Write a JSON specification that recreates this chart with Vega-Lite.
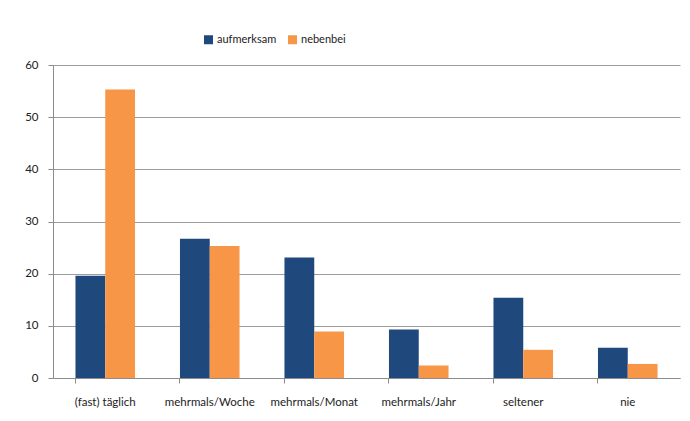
{
  "$schema": "https://vega.github.io/schema/vega-lite/v6.json",
  "autosize": {"type": "none"},
  "padding": {"left": 53, "top": 65, "right": 10, "bottom": 43},
  "width": 627,
  "height": 313,
  "background": "white",
  "data": {"values": [
    {"cat": "(fast) täglich", "series": "aufmerksam", "value": 19.6},
    {"cat": "(fast) täglich", "series": "nebenbei", "value": 55.3},
    {"cat": "mehrmals/Woche", "series": "aufmerksam", "value": 26.7},
    {"cat": "mehrmals/Woche", "series": "nebenbei", "value": 25.3},
    {"cat": "mehrmals/Monat", "series": "aufmerksam", "value": 23.1},
    {"cat": "mehrmals/Monat", "series": "nebenbei", "value": 8.9},
    {"cat": "mehrmals/Jahr", "series": "aufmerksam", "value": 9.3},
    {"cat": "mehrmals/Jahr", "series": "nebenbei", "value": 2.4},
    {"cat": "seltener", "series": "aufmerksam", "value": 15.4},
    {"cat": "seltener", "series": "nebenbei", "value": 5.4},
    {"cat": "nie", "series": "aufmerksam", "value": 5.8},
    {"cat": "nie", "series": "nebenbei", "value": 2.7}
  ]},
  "mark": {"type": "bar"},
  "encoding": {
    "x": {
      "field": "cat", "type": "nominal", "sort": null, "title": null,
      "scale": {"paddingInner": 0.43, "paddingOuter": 0.215},
      "axis": {
        "labelAngle": 0, "bandPosition": 0, "tickSize": 5, "tickColor": "#8c8c8c",
        "domainColor": "#8c8c8c", "labelPadding": 13, "labelFontSize": 11.5,
        "labelColor": "#222222", "labelFont": "Lato", "grid": false
      }
    },
    "xOffset": {"field": "series", "type": "nominal", "sort": ["aufmerksam", "nebenbei"]},
    "y": {
      "field": "value", "type": "quantitative", "title": null,
      "scale": {"domain": [0, 60]},
      "axis": {
        "values": [0, 10, 20, 30, 40, 50, 60], "tickSize": 5, "tickColor": "#8c8c8c",
        "domainColor": "#8c8c8c", "gridColor": "#9c9c9c", "labelPadding": 10,
        "labelFontSize": 11.5, "labelColor": "#222222", "labelFont": "Lato"
      }
    },
    "color": {
      "field": "series", "type": "nominal",
      "scale": {"domain": ["aufmerksam", "nebenbei"], "range": ["#1f497d", "#f79646"]},
      "legend": {
        "title": null, "orient": "none", "direction": "horizontal",
        "legendX": 150, "legendY": -31, "symbolType": "square", "symbolSize": 81,
        "symbolStrokeWidth": 0, "labelFontSize": 11, "labelFont": "Lato",
        "labelColor": "#222222", "columnPadding": 10, "labelOffset": 3
      }
    }
  },
  "config": {"view": {"stroke": null}}
}
